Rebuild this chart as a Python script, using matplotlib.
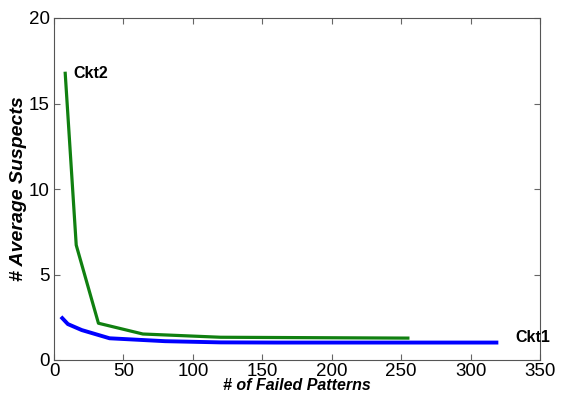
import matplotlib
matplotlib.use("Agg")
import matplotlib.pyplot as plt

plt.rcParams["font.family"] = ["Liberation Sans", "DejaVu Sans"]

# Ckt1 (blue)
ckt1_x = [5, 10, 20, 40, 80, 120, 160, 240, 320]
ckt1_y = [2.53, 2.1, 1.75, 1.27, 1.1, 1.03, 1.02, 1.02, 1.02]

# Ckt2 (green)
ckt2_x = [8, 16, 32, 64, 120, 256]
ckt2_y = [16.86, 6.72, 2.15, 1.52, 1.33, 1.28]

fig = plt.figure(figsize=(5.73, 4.05), dpi=100)
ax = fig.add_axes([54 / 573, 45 / 405, 486 / 573, 342 / 405])

ax.plot(ckt1_x, ckt1_y, color="#0000ff", linewidth=2.8, solid_capstyle="butt")
ax.plot(ckt2_x, ckt2_y, color="#108010", linewidth=2.3, solid_capstyle="butt")

ax.text(ckt2_x[0] + 6, ckt2_y[0] - 0.1, "Ckt2", fontsize=11.5, fontweight="bold", va="center")
ax.text(ckt1_x[-1] + 12, ckt1_y[-1] + 0.3, "Ckt1", fontsize=11.5, fontweight="bold", va="center")

ax.set_xlim(0, 350)
ax.set_ylim(0, 20)
ax.set_xticks(range(0, 351, 50))
ax.set_yticks(range(0, 21, 5))
ax.tick_params(direction="in", top=True, right=True, labelsize=13.5, length=4, color="#666666")
ax.tick_params(axis="x", pad=2)
ax.tick_params(axis="y", pad=3)
for s in ax.spines.values():
    s.set_color("#555555")

ax.set_xlabel("# of Failed Patterns", fontsize=11.5, fontweight="bold", style="italic", labelpad=-1)
ax.set_ylabel("# Average Suspects", fontsize=14, fontweight="bold", style="italic", labelpad=1)

fig.savefig("out.png", dpi=100)
